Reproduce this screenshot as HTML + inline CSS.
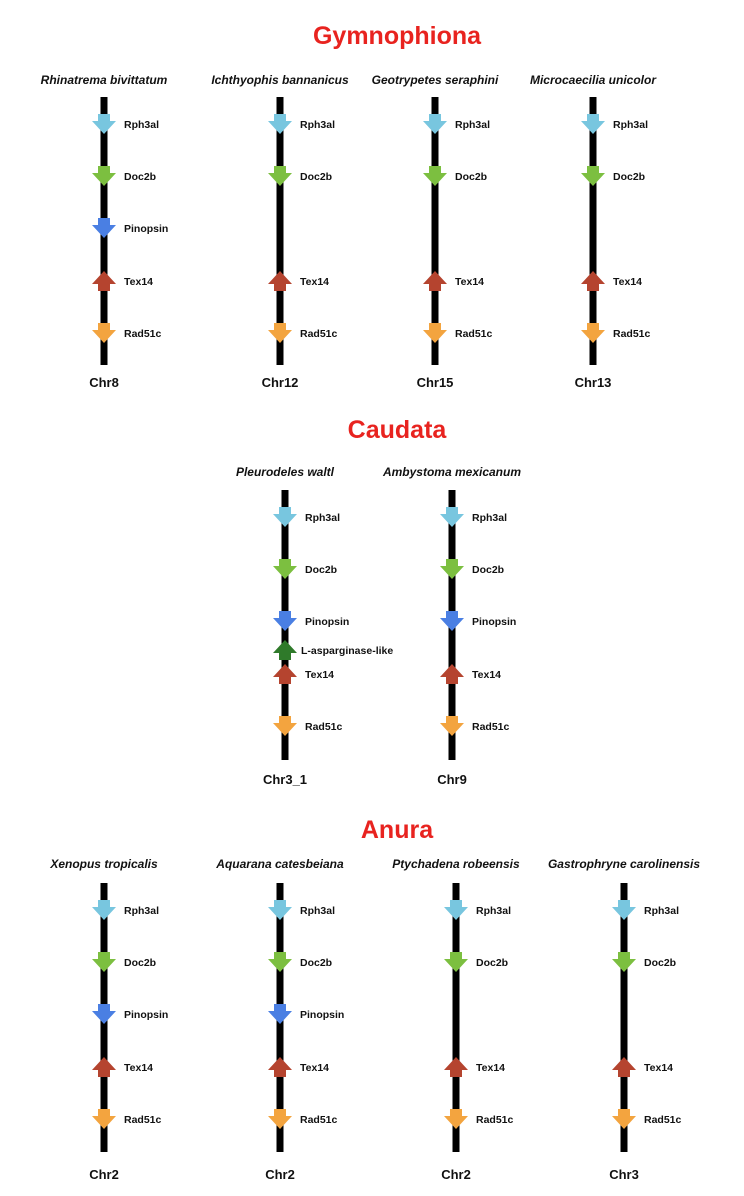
<!DOCTYPE html>
<html><head><meta charset="utf-8"><style>
body{margin:0;background:#fff}
svg{display:block;font-family:"Liberation Sans",Arial,sans-serif}
</style></head><body>
<svg id="c" width="744" height="1196" xmlns="http://www.w3.org/2000/svg"></svg>
<script>
const NS="http://www.w3.org/2000/svg";
const svg=document.getElementById('c');
const colors={Rph3al:'#78c6df',Doc2b:'#7cbf40',Pinopsin:'#4a7fe3','L-asparginase-like':'#2f7a2a',Tex14:'#b5442f',Rad51c:'#f3a43f'};
const dirs={Rph3al:'down',Doc2b:'down',Pinopsin:'down','L-asparginase-like':'up',Tex14:'up',Rad51c:'down'};
const panelTitles=['Gymnophiona','Caudata','Anura'];
const panelTitleY=[35,429,829];
const speciesY=[80,472,864];
const lineTop=[97,490,883];
const lineBot=[365,760,1152];
const chrY=[387,784,1179];
const genePos={Rph3al:27,Doc2b:79,Pinopsin:131,'L-asparginase-like':160,Tex14:184,Rad51c:236};
const panels=[
 [{sp:'Rhinatrema bivittatum',x:104,chr:'Chr8',genes:['Rph3al','Doc2b','Pinopsin','Tex14','Rad51c']},
  {sp:'Ichthyophis bannanicus',x:280,chr:'Chr12',genes:['Rph3al','Doc2b','Tex14','Rad51c']},
  {sp:'Geotrypetes seraphini',x:435,chr:'Chr15',genes:['Rph3al','Doc2b','Tex14','Rad51c']},
  {sp:'Microcaecilia unicolor',x:593,chr:'Chr13',genes:['Rph3al','Doc2b','Tex14','Rad51c']}],
 [{sp:'Pleurodeles waltl',x:285,chr:'Chr3_1',genes:['Rph3al','Doc2b','Pinopsin','L-asparginase-like','Tex14','Rad51c']},
  {sp:'Ambystoma mexicanum',x:452,chr:'Chr9',genes:['Rph3al','Doc2b','Pinopsin','Tex14','Rad51c']}],
 [{sp:'Xenopus tropicalis',x:104,chr:'Chr2',genes:['Rph3al','Doc2b','Pinopsin','Tex14','Rad51c']},
  {sp:'Aquarana catesbeiana',x:280,chr:'Chr2',genes:['Rph3al','Doc2b','Pinopsin','Tex14','Rad51c']},
  {sp:'Ptychadena robeensis',x:456,chr:'Chr2',genes:['Rph3al','Doc2b','Tex14','Rad51c']},
  {sp:'Gastrophryne carolinensis',x:624,chr:'Chr3',genes:['Rph3al','Doc2b','Tex14','Rad51c']}]
];
function el(t,a,p){const e=document.createElementNS(NS,t);for(const k in a)e.setAttribute(k,a[k]);(p||svg).appendChild(e);return e;}
panels.forEach((pl,pi)=>{
  const t=el('text',{x:397,y:panelTitleY[pi]+9,'text-anchor':'middle','font-size':25,'font-weight':'bold',fill:'#e8231f'});
  t.textContent=panelTitles[pi];
  
  
  pl.forEach((c,ci)=>{
    const g=el('g',{});
    
    
    const s=el('text',{x:c.x,y:speciesY[pi]+4,'text-anchor':'middle','font-size':12,'font-weight':'bold','font-style':'italic',fill:'#111'},g);
    s.textContent=c.sp;
    
    
    const l=el('rect',{x:c.x-3.5,y:lineTop[pi],width:7,height:lineBot[pi]-lineTop[pi],fill:'#000'},g);
    
    
    c.genes.forEach(gn=>{
      const cy=lineTop[pi]+genePos[gn];
      const x=c.x;let pts;
      if(dirs[gn]==='down') pts=[[x-6,cy-10],[x+6,cy-10],[x+6,cy-3],[x+12,cy-3],[x,cy+10],[x-12,cy-3],[x-6,cy-3]];
      else pts=[[x-6,cy+10],[x+6,cy+10],[x+6,cy+3],[x+12,cy+3],[x,cy-10],[x-12,cy+3],[x-6,cy+3]];
      const a=el('polygon',{points:pts.map(p=>p.join(',')).join(' '),fill:colors[gn]},g);
      
      
      const tx=el('text',{x:x+(gn==='L-asparginase-like'?16:20),y:cy+4,'font-size':10.5,'font-weight':'bold',fill:'#111'},g);
      tx.textContent=gn;
      
      
    });
    const ch=el('text',{x:c.x,y:chrY[pi],'text-anchor':'middle','font-size':13,'font-weight':'bold',fill:'#111'},g);
    ch.textContent=c.chr;
    
    
  });
});
</script>
</body></html>
